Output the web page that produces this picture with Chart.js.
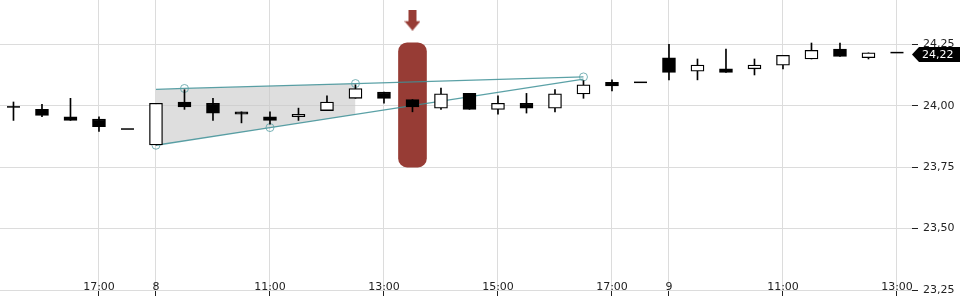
<!DOCTYPE html>
<html>
<head>
<meta charset="utf-8">
<script src="https://cdn.jsdelivr.net/npm/chart.js@4.4.0/dist/chart.umd.min.js"></script>
<style>
  html, body { margin: 0; padding: 0; background: #fff; }
  #wrap { width: 960px; height: 300px; }
</style>
</head>
<body>
<div id="wrap"><canvas id="chart" width="960" height="300"></canvas></div>
<script>
// half-hour slots, slot 0 = 15:00 on the 7th
const tickSlots = [0, 4, 6, 10, 14, 18, 22, 24, 28, 32];
const tickLabels = ['15:00', '17:00', '8', '11:00', '13:00', '15:00', '17:00', '9', '11:00', '13:00'];
const yTicks = [23.25, 23.5, 23.75, 24.0, 24.25];

const slots = [1, 2, 3, 4, 5, 6, 7, 8, 9, 10, 11, 12, 13, 14, 15, 16,
               17, 18, 19, 20, 21, 22, 23, 24, 25, 26, 27, 28, 29, 30, 31, 32];
const open  = [23.995, 23.985, 23.955, 23.945, 23.905, 23.840, 24.015, 24.010, 23.975, 23.955, 23.955, 23.980, 24.030, 24.055, 24.025, 23.990,
               24.050, 23.985, 24.010, 23.990, 24.048, 24.095, 24.095, 24.195, 24.140, 24.150, 24.150, 24.165, 24.190, 24.230, 24.195, 24.216];
const high  = [24.015, 24.005, 24.030, 23.955, 23.905, 24.010, 24.065, 24.030, 23.975, 23.975, 23.990, 24.040, 24.085, 24.055, 24.025, 24.072,
               24.050, 24.040, 24.050, 24.065, 24.102, 24.105, 24.095, 24.250, 24.190, 24.230, 24.190, 24.205, 24.255, 24.255, 24.215, 24.216];
const low   = [23.940, 23.955, 23.940, 23.895, 23.905, 23.840, 23.985, 23.940, 23.930, 23.925, 23.940, 23.980, 24.030, 24.010, 23.975, 23.985,
               23.985, 23.965, 23.970, 23.975, 24.030, 24.060, 24.095, 24.105, 24.105, 24.135, 24.125, 24.150, 24.190, 24.200, 24.190, 24.216];
const close = [23.995, 23.960, 23.940, 23.915, 23.905, 24.010, 23.995, 23.970, 23.965, 23.940, 23.965, 24.015, 24.070, 24.030, 23.995, 24.048,
               23.985, 24.010, 23.990, 24.048, 24.085, 24.080, 24.095, 24.135, 24.165, 24.135, 24.165, 24.205, 24.225, 24.200, 24.215, 24.216];

// triangle pattern
const upperSlots = [6, 7, 13, 21];
const upperValues = [24.066, 24.070, 24.090, 24.117];
const upperMarks = [0, 1, 1, 1];
const lowerSlots = [6, 10, 21];
const lowerValues = [23.839, 23.911, 24.108];
const lowerMarks = [1, 1, 0];
const shadeSlots = [6, 13];
const shadeTop = [24.066, 24.090];
const shadeBottom = [23.839, 23.964];

// signal marker
const signalSlot = 15;
const signalRange = [23.75, 24.256];
const arrowValue = 24.348;

const red = '#973c35';
const teal = 'rgba(62,145,150,0.85)';
const grid = '#dcdcdc';
const ink = '#222';

Chart.defaults.font.family = '"DejaVu Sans", sans-serif';
Chart.defaults.font.size = 11;

const candles = slots.map((s, i) => ({ x: s, o: open[i], h: high[i], l: low[i], c: close[i] }));
const bodies = candles.filter(k => k.o !== k.c).map(k => ({ x: k.x, y: [k.o, k.c] }));
const dojis = candles.filter(k => k.o === k.c).map(k => ({ x: k.x, y: k.c }));
const wicks = candles.filter(k => k.h > k.l).map(k => ({ x: k.x, y: [k.l, k.h] }));

const arrow = document.createElement('canvas');
arrow.width = 16; arrow.height = 21;
const a = arrow.getContext('2d');
a.fillStyle = red;
a.fillRect(4, 0, 8, 12);
a.beginPath(); a.moveTo(0, 11.5); a.lineTo(16, 11.5); a.lineTo(8, 21); a.closePath(); a.fill();

const priceTag = {
  id: 'priceTag',
  afterDraw(chart) {
    const { ctx, chartArea, scales } = chart;
    const last = close[close.length - 1];
    const y = scales.y.getPixelForValue(last) + 2;
    const x = chartArea.right;
    ctx.save();
    ctx.fillStyle = '#000';
    ctx.beginPath();
    ctx.moveTo(x, y);
    ctx.lineTo(x + 7, y - 7.5);
    ctx.lineTo(chart.width, y - 7.5);
    ctx.lineTo(chart.width, y + 7.5);
    ctx.lineTo(x + 7, y + 7.5);
    ctx.closePath();
    ctx.fill();
    ctx.fillStyle = '#fff';
    ctx.font = '11px "DejaVu Sans"';
    ctx.textBaseline = 'middle';
    ctx.fillText(last.toFixed(2).replace('.', ','), x + 10, y + 0.5);
    ctx.restore();
  }
};

new Chart(document.getElementById('chart'), {
  type: 'line',
  data: {
    datasets: [
      {
        type: 'bar', data: bodies, order: 0, grouped: false,
        barPercentage: 1, categoryPercentage: 1, maxBarThickness: 13,
        backgroundColor: c => (c.raw && c.raw.y[1] > c.raw.y[0]) ? '#fff' : '#000',
        borderColor: '#000', borderWidth: 1.3, borderSkipped: false
      },
      {
        type: 'line', data: dojis, order: 0, showLine: false,
        pointStyle: 'line', pointRadius: 6.5, pointBorderWidth: 1.5, pointBorderColor: '#000'
      },
      {
        type: 'bar', data: wicks, order: 1, grouped: false,
        barPercentage: 1, categoryPercentage: 1, maxBarThickness: 1,
        backgroundColor: '#000', borderWidth: 0
      },
      {
        type: 'line', order: 2, tension: 0, fill: false,
        data: upperSlots.map((s, i) => ({ x: s, y: upperValues[i] })),
        borderColor: teal, borderWidth: 1.3,
        pointRadius: c => upperMarks[c.dataIndex] ? 4 : 0,
        pointBorderColor: 'rgba(90,160,165,0.8)', pointBackgroundColor: 'rgba(0,0,0,0)', pointBorderWidth: 1
      },
      {
        type: 'line', order: 2, tension: 0, fill: false,
        data: lowerSlots.map((s, i) => ({ x: s, y: lowerValues[i] })),
        borderColor: teal, borderWidth: 1.3,
        pointRadius: c => lowerMarks[c.dataIndex] ? 4 : 0,
        pointBorderColor: 'rgba(90,160,165,0.8)', pointBackgroundColor: 'rgba(0,0,0,0)', pointBorderWidth: 1
      },
      {
        type: 'line', order: 3, showLine: false,
        data: [{ x: signalSlot, y: arrowValue }],
        pointStyle: arrow, pointRadius: 10
      },
      {
        type: 'bar', order: 3, grouped: false,
        data: [{ x: signalSlot, y: signalRange }],
        barPercentage: 1, categoryPercentage: 1, maxBarThickness: 28,
        backgroundColor: red, borderWidth: 0, borderRadius: 9, borderSkipped: false
      },
      {
        type: 'line', order: 4, tension: 0, fill: '+1',
        data: shadeSlots.map((s, i) => ({ x: s, y: shadeTop[i] })),
        borderWidth: 0, pointRadius: 0, backgroundColor: 'rgba(200,200,200,0.6)'
      },
      {
        type: 'line', order: 4, tension: 0, fill: false,
        data: shadeSlots.map((s, i) => ({ x: s, y: shadeBottom[i] })),
        borderWidth: 0, pointRadius: 0
      }
    ]
  },
  options: {
    responsive: false,
    animation: false,
    events: [],
    layout: { autoPadding: false, padding: 0 },
    plugins: { legend: { display: false }, tooltip: { enabled: false } },
    scales: {
      x: {
        type: 'linear', min: 0.527, max: 32.527, offset: false,
        afterBuildTicks: s => { s.ticks = tickSlots.map(v => ({ value: v })); },
        afterFit: s => { s.height = 10; s.paddingLeft = 0; s.paddingRight = 0; },
        grid: { color: grid, tickColor: ink, tickLength: 6, offset: false },
        border: { display: false },
        ticks: {
          mirror: true, padding: -3.5, autoSkip: false, maxRotation: 0, color: ink,
          callback: v => { const i = tickSlots.indexOf(v); return i < 0 ? '' : tickLabels[i]; }
        }
      },
      y: {
        position: 'right', min: 23.25, max: 24.43,
        afterBuildTicks: s => { s.ticks = yTicks.map(v => ({ value: v })); },
        afterFit: s => { s.width = 48; s.paddingTop = 0; s.paddingBottom = 0; },
        grid: { color: grid, tickColor: ink, tickLength: 6 },
        border: { display: false },
        ticks: { padding: 5, color: ink, callback: v => v.toFixed(2).replace('.', ',') }
      }
    }
  },
  plugins: [priceTag]
});
</script>
</body>
</html>
